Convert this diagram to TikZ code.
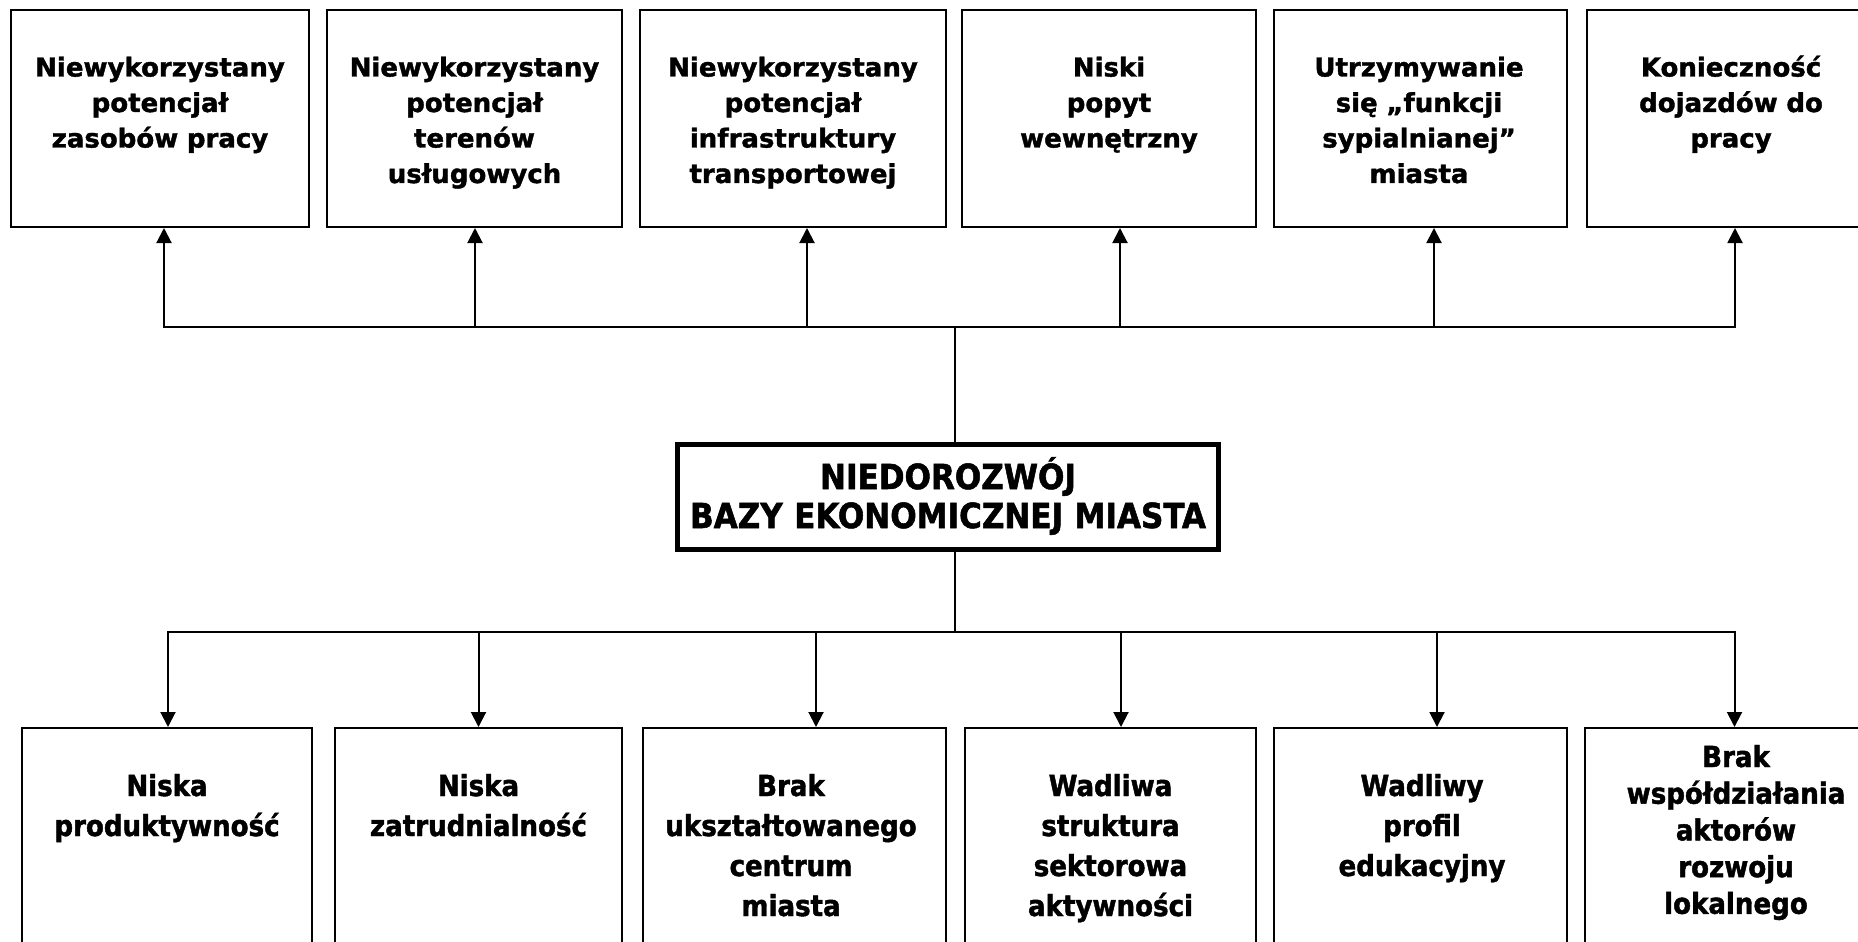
\documentclass[tikz,border=0pt]{standalone}
\usepackage{fontspec}
\setmainfont{DejaVu Sans}[BoldFeatures={FakeBold=1.5}]
\newfontfamily\condfont{DejaVu Sans Condensed}[BoldFeatures={FakeBold=1.5}]
\usetikzlibrary{arrows.meta}
\begin{document}
\begin{tikzpicture}[x=1pt,y=-1pt,
  topbox/.style={draw, line width=2pt, minimum height=217pt, inner sep=0pt},
  botbox/.style={draw, line width=2pt, minimum height=234pt, inner sep=0pt},
  mainbox/.style={draw, line width=5pt, minimum width=541pt, minimum height=105pt, inner sep=0pt},
  toptext/.style={anchor=base, text width=290pt, align=center, inner sep=0pt,
    font=\bfseries\fontsize{26}{35.5}\selectfont},
  bottext/.style={anchor=base, text width=290pt, align=center, inner sep=0pt,
    font=\condfont\bfseries\fontsize{29}{40}\selectfont},
  bottextb/.style={bottext, font=\condfont\bfseries\fontsize{29}{36.7}\selectfont},
  maintext/.style={anchor=base, text width=560pt, align=center, inner sep=0pt,
    font=\condfont\bfseries\fontsize{34.5}{39}\selectfont},
  conn/.style={line width=2pt},
  arr/.style={line width=2pt, line join=miter, -{Triangle[length=15pt,width=15pt]}}]
\clip (0,0) rectangle (1858,942);
\fill[white] (0,0) rectangle (1858,942);
% top boxes
\node[topbox, minimum width=298pt] (t1) at (160,118.5) {};
\node[topbox, minimum width=295pt] (t2) at (474.5,118.5) {};
\node[topbox, minimum width=306pt] (t3) at (793,118.5) {};
\node[topbox, minimum width=294pt] (t4) at (1109,118.5) {};
\node[topbox, minimum width=293pt] (t5) at (1420.5,118.5) {};
\node[topbox, minimum width=288pt] (t6) at (1731,118.5) {};
\node[toptext] (tt1) at (160,76.5) {Niewykorzystany\\potencjał\\zasobów pracy};
\node[toptext] (tt2) at (474.5,76.5) {Niewykorzystany\\potencjał\\terenów\\usługowych};
\node[toptext] (tt3) at (793,76.5) {Niewykorzystany\\potencjał\\infrastruktury\\transportowej};
\node[toptext] (tt4) at (1109,76.5) {Niski\\popyt\\wewnętrzny};
\node[toptext] (tt5) at (1419,76.5) {Utrzymywanie\\się „funkcji\\sypialnianej”\\miasta};
\node[toptext] (tt6) at (1731,76.5) {Konieczność\\dojazdów do\\pracy};
% central box
\node[mainbox] (c) at (948,497) {};
\node[maintext] (ct) at (948,489) {NIEDOROZWÓJ\\BAZY EKONOMICZNEJ MIASTA};
% bottom boxes
\node[botbox, minimum width=290pt] (b1) at (167,845) {};
\node[botbox, minimum width=287pt] (b2) at (478.5,845) {};
\node[botbox, minimum width=303pt] (b3) at (794.5,845) {};
\node[botbox, minimum width=291pt] (b4) at (1110.5,845) {};
\node[botbox, minimum width=293pt] (b5) at (1420.5,845) {};
\node[botbox, minimum width=297pt] (b6) at (1733.5,845) {};
\node[bottext] (bt1) at (167,796) {Niska\\produktywność};
\node[bottext] (bt2) at (478.5,796) {Niska\\zatrudnialność};
\node[bottext] (bt3) at (791,796) {Brak\\ukształtowanego\\centrum\\miasta};
\node[bottext] (bt4) at (1110.5,796) {Wadliwa\\struktura\\sektorowa\\aktywności};
\node[bottext] (bt5) at (1422,796) {Wadliwy\\profil\\edukacyjny};
\node[bottextb] (bt6) at (1736,767) {Brak\\współdziałania\\aktorów\\rozwoju\\lokalnego};
% junctions
\coordinate (tj) at (955,327);
\coordinate (bj) at (955,632);
\draw[conn] (tj) -- (c.north -| tj);
\draw[conn] (c.south -| tj) -- (bj);
% top arrows
\draw[arr] (tj) -| ([xshift=4pt]t1.south);
\draw[arr] (tj) -| ([xshift=0.5pt]t2.south);
\draw[arr] (tj) -| ([xshift=14pt]t3.south);
\draw[arr] (tj) -| ([xshift=11pt]t4.south);
\draw[arr] (tj) -| ([xshift=13.5pt]t5.south);
\draw[arr] (tj) -| ([xshift=4pt]t6.south);
% bottom arrows
\draw[arr] (bj) -| ([xshift=1pt]b1.north);
\draw[arr] (bj) -| (b2.north);
\draw[arr] (bj) -| ([xshift=21.5pt]b3.north);
\draw[arr] (bj) -| ([xshift=10.5pt]b4.north);
\draw[arr] (bj) -| ([xshift=16.5pt]b5.north);
\draw[arr] (bj) -| ([xshift=1pt]b6.north);
\end{tikzpicture}
\end{document}
